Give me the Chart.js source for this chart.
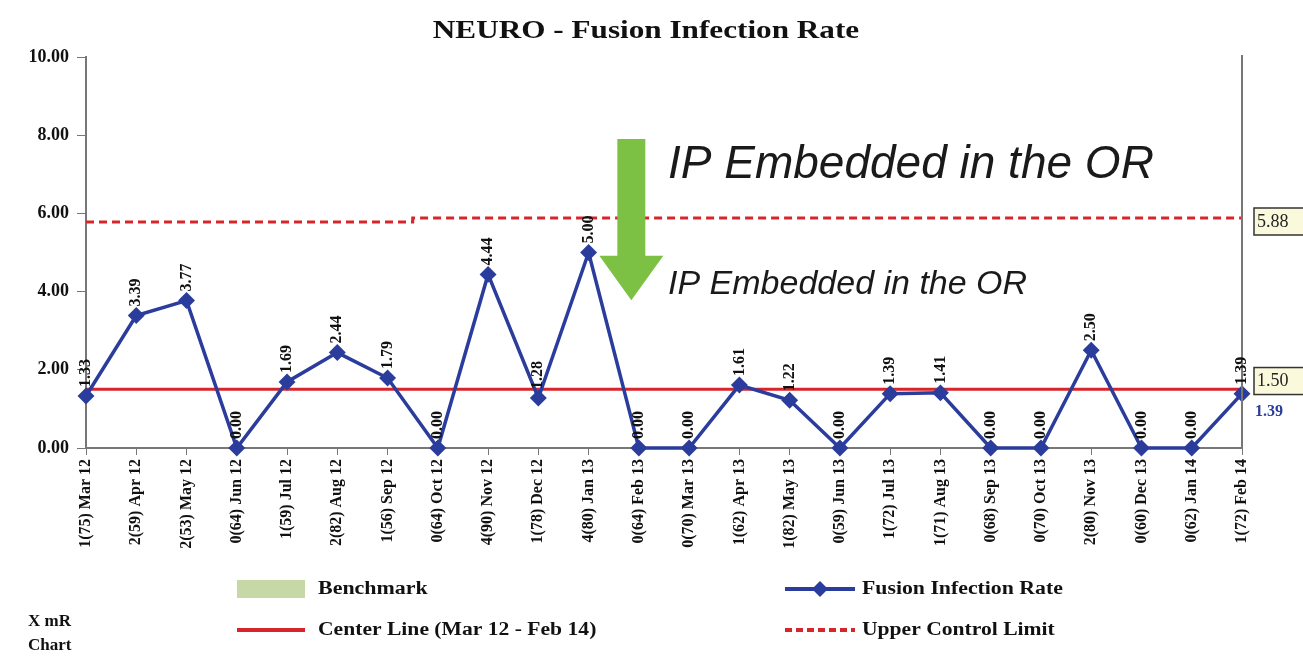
<!DOCTYPE html>
<html>
<head>
<meta charset="utf-8">
<script src="https://cdn.jsdelivr.net/npm/chart.js@4.4.1/dist/chart.umd.min.js"></script>
<style>
  html, body { margin: 0; padding: 0; background: #fff; }
  #wrap { width: 1303px; height: 656px; position: relative; }
</style>
</head>
<body>
<div id="wrap"><canvas id="grafico"></canvas></div>
<script>
// Datos
const categorias = [
  "1(75) Mar 12", "2(59) Apr 12", "2(53) May 12", "0(64) Jun 12", "1(59) Jul 12", "2(82) Aug 12",
  "1(56) Sep 12", "0(64) Oct 12", "4(90) Nov 12", "1(78) Dec 12", "4(80) Jan 13", "0(64) Feb 13",
  "0(70) Mar 13", "1(62) Apr 13", "1(82) May 13", "0(59) Jun 13", "1(72) Jul 13", "1(71) Aug 13",
  "0(68) Sep 13", "0(70) Oct 13", "2(80) Nov 13", "0(60) Dec 13", "0(62) Jan 14", "1(72) Feb 14"
];
const tasaInfeccion = [1.33, 3.39, 3.77, 0.00, 1.69, 2.44, 1.79, 0.00, 4.44, 1.28, 5.00, 0.00,
                       0.00, 1.61, 1.22, 0.00, 1.39, 1.41, 0.00, 0.00, 2.50, 0.00, 0.00, 1.39];
const lineaCentral = Array(categorias.length).fill(1.50);
const limiteSuperior = [5.78, 5.78, 5.78, 5.78, 5.78, 5.78, 5.78, 5.88, 5.88, 5.88, 5.88, 5.88,
                        5.88, 5.88, 5.88, 5.88, 5.88, 5.88, 5.88, 5.88, 5.88, 5.88, 5.88, 5.88];
const benchmark = [];
const ticksY = [0, 2, 4, 6, 8, 10];

const SERIF = "'Liberation Serif', 'DejaVu Serif', serif";
const AZUL = '#2b3d9c';
const ROJO = '#d7262b';
const VERDE = '#7cc143';

// texto ensanchado horizontalmente (la fuente original es mas ancha)
function textoAncho(ctx, txt, x, y, escala) {
  ctx.save();
  ctx.translate(x, y);
  ctx.scale(escala, 1);
  ctx.fillText(txt, 0, 0);
  ctx.restore();
}

// Plugin: titulo, etiquetas de datos, flecha, textos y leyenda
const extras = {
  id: 'extras',
  afterDatasetsDraw(chart) {
    const ctx = chart.ctx;
    const area = chart.chartArea;
    const x = chart.scales.x, y = chart.scales.y;

    // eje derecho
    ctx.save();
    ctx.strokeStyle = '#777';
    ctx.lineWidth = 2;
    ctx.beginPath();
    ctx.moveTo(area.right, area.top - 2);
    ctx.lineTo(area.right, area.bottom);
    ctx.stroke();
    ctx.restore();

    // etiquetas de los puntos (rotadas)
    const meta = chart.getDatasetMeta(0);
    ctx.save();
    ctx.fillStyle = '#111';
    ctx.font = "bold 16px " + SERIF;
    ctx.textAlign = 'left';
    ctx.textBaseline = 'middle';
    meta.data.forEach((p, i) => {
      ctx.save();
      ctx.translate(p.x, p.y - 9);
      ctx.rotate(-Math.PI / 2);
      ctx.fillText(tasaInfeccion[i].toFixed(2), 0, 0);
      ctx.restore();
    });
    ctx.restore();

    // flecha verde
    const ax = x.getPixelForValue(10.85);
    const top = y.getPixelForValue(7.9);
    const base = y.getPixelForValue(4.92);
    const tip = y.getPixelForValue(3.78);
    ctx.save();
    ctx.fillStyle = VERDE;
    ctx.beginPath();
    ctx.moveTo(ax - 14, top);
    ctx.lineTo(ax + 14, top);
    ctx.lineTo(ax + 14, base);
    ctx.lineTo(ax + 32, base);
    ctx.lineTo(ax, tip);
    ctx.lineTo(ax - 32, base);
    ctx.lineTo(ax - 14, base);
    ctx.closePath();
    ctx.fill();
    ctx.restore();

    // textos de la anotacion
    ctx.save();
    ctx.fillStyle = '#1a1a1a';
    ctx.textAlign = 'left';
    ctx.textBaseline = 'alphabetic';
    ctx.font = "italic 46px 'Liberation Sans', Arial, sans-serif";
    ctx.fillText('IP Embedded in the OR', x.getPixelForValue(11.58), y.getPixelForValue(6.9));
    ctx.font = "italic 34px 'Liberation Sans', Arial, sans-serif";
    ctx.fillText('IP Embedded in the OR', x.getPixelForValue(11.58), y.getPixelForValue(3.95));
    ctx.restore();

    // cajas de valores a la derecha
    const caja = (valor, yv) => {
      const py = y.getPixelForValue(yv);
      ctx.save();
      ctx.fillStyle = '#fbf9dc';
      ctx.strokeStyle = '#333';
      ctx.lineWidth = 1.5;
      ctx.fillRect(area.right + 12, py - 14, 60, 27);
      ctx.strokeRect(area.right + 12, py - 14, 60, 27);
      ctx.fillStyle = '#222';
      ctx.font = "18px " + SERIF;
      ctx.textAlign = 'left';
      ctx.textBaseline = 'middle';
      ctx.fillText(valor, area.right + 15, py);
      ctx.restore();
    };
    caja(limiteSuperior[limiteSuperior.length - 1].toFixed(2), limiteSuperior[limiteSuperior.length - 1] - 0.1);
    caja(lineaCentral[0].toFixed(2), lineaCentral[0] + 0.2);

    const ultimo = tasaInfeccion[tasaInfeccion.length - 1];
    ctx.save();
    ctx.fillStyle = AZUL;
    ctx.font = "bold 16px " + SERIF;
    ctx.textBaseline = 'middle';
    ctx.fillText(ultimo.toFixed(2), area.right + 13, y.getPixelForValue(ultimo) + 18);
    ctx.restore();
  },
  afterDraw(chart) {
    const ctx = chart.ctx;
    ctx.save();
    // titulo
    ctx.fillStyle = '#111';
    ctx.font = "bold 26px " + SERIF;
    ctx.textAlign = 'center';
    ctx.textBaseline = 'middle';
    textoAncho(ctx, 'NEURO - Fusion Infection Rate', 646, 31, 1.2);

    // leyenda
    ctx.textAlign = 'left';
    ctx.font = "bold 18px " + SERIF;
    ctx.fillStyle = '#c5d8a6';
    ctx.fillRect(237, 580, 68, 18);
    ctx.fillStyle = '#111';
    textoAncho(ctx, 'Benchmark', 318, 589, 1.22);

    ctx.strokeStyle = AZUL;
    ctx.lineWidth = 4;
    ctx.beginPath(); ctx.moveTo(785, 589); ctx.lineTo(855, 589); ctx.stroke();
    ctx.fillStyle = AZUL;
    ctx.beginPath();
    ctx.moveTo(820, 581); ctx.lineTo(828, 589); ctx.lineTo(820, 597); ctx.lineTo(812, 589);
    ctx.closePath(); ctx.fill();
    ctx.fillStyle = '#111';
    textoAncho(ctx, 'Fusion Infection Rate', 862, 589, 1.21);

    ctx.strokeStyle = ROJO;
    ctx.beginPath(); ctx.moveTo(237, 630); ctx.lineTo(305, 630); ctx.stroke();
    textoAncho(ctx, 'Center Line (Mar 12 - Feb 14)', 318, 630, 1.2);

    ctx.setLineDash([7, 4]);
    ctx.beginPath(); ctx.moveTo(785, 630); ctx.lineTo(855, 630); ctx.stroke();
    ctx.setLineDash([]);
    textoAncho(ctx, 'Upper Control Limit', 862, 630, 1.2);

    ctx.font = "bold 17px " + SERIF;
    ctx.fillText('X mR', 28, 622);
    ctx.fillText('Chart', 28, 646);
    ctx.restore();
  }
};

const ctxGrafico = document.getElementById('grafico').getContext('2d');
new Chart(ctxGrafico, {
  type: 'line',
  data: {
    labels: categorias,
    datasets: [
      {
        label: 'Fusion Infection Rate',
        data: tasaInfeccion,
        borderColor: AZUL,
        backgroundColor: AZUL,
        borderWidth: 3.5,
        pointStyle: 'rectRot',
        pointRadius: 6,
        pointHoverRadius: 6,
        tension: 0,
        clip: false
      },
      {
        label: 'Center Line (Mar 12 - Feb 14)',
        data: lineaCentral,
        borderColor: ROJO,
        borderWidth: 3,
        pointRadius: 0,
        clip: false
      },
      {
        label: 'Upper Control Limit',
        data: limiteSuperior,
        borderColor: ROJO,
        borderWidth: 3,
        borderDash: [8, 5],
        pointRadius: 0,
        stepped: 'middle',
        clip: false
      },
      {
        label: 'Benchmark',
        data: benchmark,
        backgroundColor: '#c5d8a6',
        pointRadius: 0
      }
    ]
  },
  options: {
    responsive: true,
    maintainAspectRatio: false,
    animation: false,
    layout: { padding: { top: 57, right: 61, bottom: 100, left: 0 } },
    plugins: {
      legend: { display: false },
      title: { display: false },
      tooltip: { enabled: false }
    },
    scales: {
      x: {
        offset: false,
        grid: { drawOnChartArea: false, drawTicks: true, tickLength: 7, color: '#777' },
        border: { display: true, color: '#777', width: 2 },
        ticks: {
          autoSkip: false, maxRotation: 90, minRotation: 90, padding: 4,
          color: '#111', font: { family: SERIF, size: 16, weight: 'bold' }
        },
        afterFit(scale) { scale.height = 108; }
      },
      y: {
        min: 0, max: 10,
        afterBuildTicks(scale) { scale.ticks = ticksY.map(v => ({ value: v })); },
        grid: { drawOnChartArea: false, drawTicks: true, tickLength: 9, color: '#777' },
        border: { display: true, color: '#777', width: 2 },
        ticks: {
          padding: 8, color: '#111',
          font: { family: SERIF, size: 18, weight: 'bold' },
          callback: v => Number(v).toFixed(2)
        },
        afterFit(scale) { scale.width = 86; }
      }
    }
  },
  plugins: [extras]
});
</script>
</body>
</html>
